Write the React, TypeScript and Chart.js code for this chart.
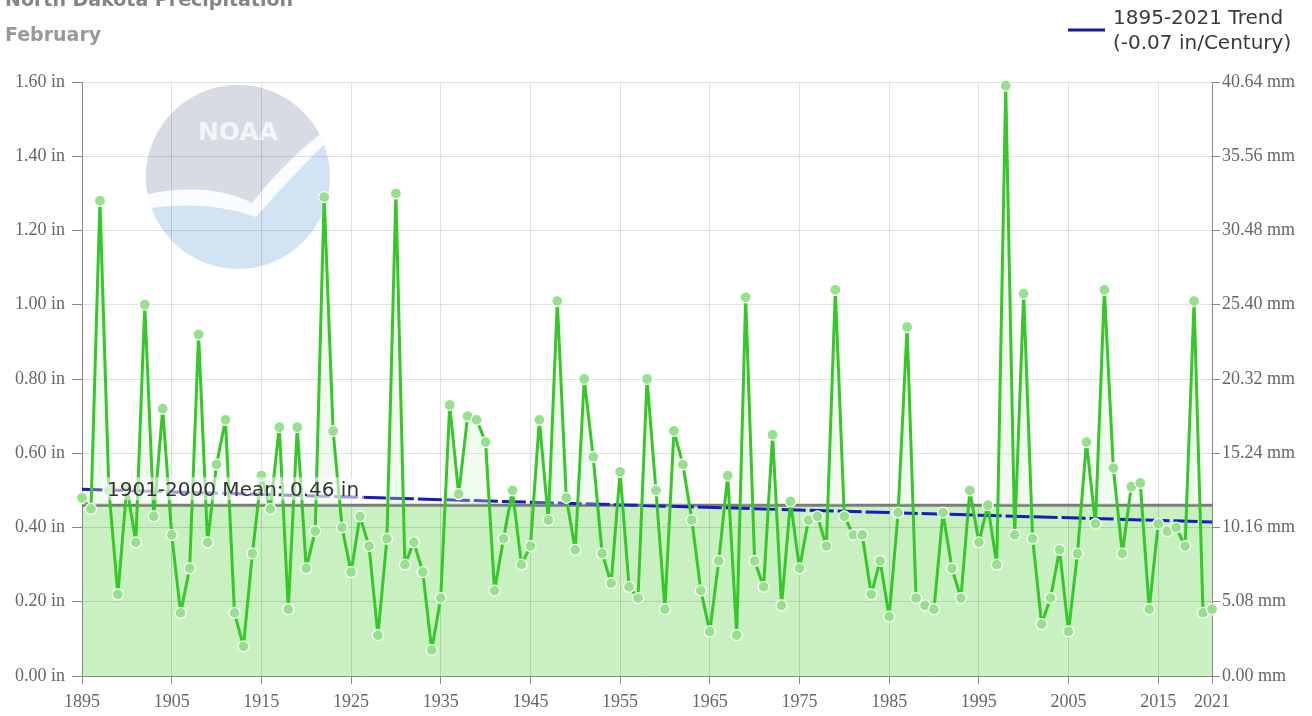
import React, { useEffect, useRef } from 'react';
import { Chart, registerables } from 'chart.js';

Chart.register(...registerables);

const years = [
  1895, 1896, 1897, 1898, 1899, 1900, 1901, 1902, 1903, 1904,
  1905, 1906, 1907, 1908, 1909, 1910, 1911, 1912, 1913, 1914,
  1915, 1916, 1917, 1918, 1919, 1920, 1921, 1922, 1923, 1924,
  1925, 1926, 1927, 1928, 1929, 1930, 1931, 1932, 1933, 1934,
  1935, 1936, 1937, 1938, 1939, 1940, 1941, 1942, 1943, 1944,
  1945, 1946, 1947, 1948, 1949, 1950, 1951, 1952, 1953, 1954,
  1955, 1956, 1957, 1958, 1959, 1960, 1961, 1962, 1963, 1964,
  1965, 1966, 1967, 1968, 1969, 1970, 1971, 1972, 1973, 1974,
  1975, 1976, 1977, 1978, 1979, 1980, 1981, 1982, 1983, 1984,
  1985, 1986, 1987, 1988, 1989, 1990, 1991, 1992, 1993, 1994,
  1995, 1996, 1997, 1998, 1999, 2000, 2001, 2002, 2003, 2004,
  2005, 2006, 2007, 2008, 2009, 2010, 2011, 2012, 2013, 2014,
  2015, 2016, 2017, 2018, 2019, 2020, 2021,
];

const precipIn = [
  0.48, 0.45, 1.28, 0.50, 0.22, 0.51, 0.36, 1.00, 0.43, 0.72,
  0.38, 0.17, 0.29, 0.92, 0.36, 0.57, 0.69, 0.17, 0.08, 0.33,
  0.54, 0.45, 0.67, 0.18, 0.67, 0.29, 0.39, 1.29, 0.66, 0.40,
  0.28, 0.43, 0.35, 0.11, 0.37, 1.30, 0.30, 0.36, 0.28, 0.07,
  0.21, 0.73, 0.49, 0.70, 0.69, 0.63, 0.23, 0.37, 0.50, 0.30,
  0.35, 0.69, 0.42, 1.01, 0.48, 0.34, 0.80, 0.59, 0.33, 0.25,
  0.55, 0.24, 0.21, 0.80, 0.50, 0.18, 0.66, 0.57, 0.42, 0.23,
  0.12, 0.31, 0.54, 0.11, 1.02, 0.31, 0.24, 0.65, 0.19, 0.47,
  0.29, 0.42, 0.43, 0.35, 1.04, 0.43, 0.38, 0.38, 0.22, 0.31,
  0.16, 0.44, 0.94, 0.21, 0.19, 0.18, 0.44, 0.29, 0.21, 0.50,
  0.36, 0.46, 0.30, 1.59, 0.38, 1.03, 0.37, 0.14, 0.21, 0.34,
  0.12, 0.33, 0.63, 0.41, 1.04, 0.56, 0.33, 0.51, 0.52, 0.18,
  0.41, 0.39, 0.40, 0.35, 1.01, 0.17, 0.18,
];

const trendYears = [1895, 2021];
const trendValues = [0.503, 0.415];

const meanYears = [1895, 2021];
const meanValue = 0.46;

const xTicks = [1895, 1905, 1915, 1925, 1935, 1945, 1955, 1965, 1975, 1985, 1995, 2005, 2015, 2021];
const yTicks = [0, 0.2, 0.4, 0.6, 0.8, 1.0, 1.2, 1.4, 1.6];

const titleText = 'North Dakota Precipitation';
const subtitleText = 'February';
const legendLine1 = '1895-2021 Trend';
const legendLine2 = '(-0.07 in/Century)';
const meanLabel = '1901-2000 Mean: 0.46 in';

function drawLogo(ctx: CanvasRenderingContext2D) {
  const cx = 238, cy = 177, r = 92;
  ctx.save();
  ctx.beginPath();
  ctx.arc(cx, cy, r, 0, Math.PI * 2);
  ctx.fillStyle = 'rgb(210,227,243)';
  ctx.fill();
  ctx.clip();
  // upper gray cap
  ctx.beginPath();
  ctx.moveTo(cx - r - 2, cy - r - 2);
  ctx.lineTo(cx + r + 2, cy - r - 2);
  ctx.lineTo(cx + r + 2, cy - 52);
  ctx.quadraticCurveTo(cx + 50, cy - 20, cx + 14, cy + 26);
  ctx.quadraticCurveTo(cx - 30, cy + 4, cx - r - 2, cy + 18);
  ctx.closePath();
  ctx.fillStyle = 'rgb(216,218,228)';
  ctx.fill();
  // white bird swoosh
  ctx.beginPath();
  ctx.moveTo(cx - r - 2, cy + 18);
  ctx.quadraticCurveTo(cx - 30, cy + 4, cx + 14, cy + 26);
  ctx.quadraticCurveTo(cx + 50, cy - 20, cx + r + 2, cy - 52);
  ctx.lineTo(cx + r + 2, cy - 40);
  ctx.quadraticCurveTo(cx + 56, cy - 4, cx + 18, cy + 40);
  ctx.quadraticCurveTo(cx - 30, cy + 22, cx - r - 2, cy + 32);
  ctx.closePath();
  ctx.fillStyle = 'rgb(250,252,255)';
  ctx.fill();
  ctx.restore();
  ctx.save();
  ctx.font = 'bold 25px "DejaVu Sans"';
  ctx.fillStyle = 'rgb(244,245,249)';
  ctx.textAlign = 'center';
  ctx.textBaseline = 'alphabetic';
  ctx.fillText('NOAA', cx, cy - 37);
  ctx.restore();
}

const decorPlugin = {
  id: 'decor',
  beforeDraw(chart: any) {
    const { ctx, chartArea: a, scales } = chart;
    ctx.save();
    ctx.fillStyle = '#ffffff';
    ctx.fillRect(0, 0, chart.width, chart.height);
    drawLogo(ctx);
    const yM = scales.y.getPixelForValue(meanValue);
    const y0 = scales.y.getPixelForValue(0);
    ctx.fillStyle = 'rgb(201,240,193)';
    ctx.fillRect(a.left, yM, a.right - a.left, y0 - yM);
    ctx.restore();
  },
  afterDraw(chart: any) {
    const { ctx, chartArea: a, scales } = chart;
    ctx.save();
    // titles
    ctx.textAlign = 'left';
    ctx.textBaseline = 'alphabetic';
    ctx.font = 'bold 19px "DejaVu Sans"';
    ctx.fillStyle = '#858585';
    ctx.fillText(titleText, 5, 6);
    ctx.fillStyle = '#999999';
    ctx.fillText(subtitleText, 5, 41);
    // legend
    ctx.strokeStyle = '#1616a8';
    ctx.lineWidth = 3;
    ctx.beginPath();
    ctx.moveTo(1068, 30);
    ctx.lineTo(1105, 30);
    ctx.stroke();
    ctx.font = '20px "DejaVu Sans"';
    ctx.fillStyle = '#3a3a3a';
    ctx.fillText(legendLine1, 1113, 24);
    ctx.fillText(legendLine2, 1113, 49);
    // mean label
    const yM = scales.y.getPixelForValue(meanValue);
    const tx = a.left + 25;
    const tw = ctx.measureText(meanLabel).width;
    ctx.fillStyle = 'rgba(255,255,255,0.55)';
    ctx.fillRect(tx - 5, yM - 28, tw + 10, 23);
    ctx.fillStyle = '#333333';
    ctx.fillText(meanLabel, tx, yM - 9);
    ctx.restore();
  },
};

const tickFont = { family: '"Liberation Serif", "Times New Roman", serif', size: 18 };
const gridColor = 'rgba(0,0,0,0.12)';
const axisColor = '#8a8a8a';

export default function App() {
  const canvasRef = useRef<HTMLCanvasElement | null>(null);

  useEffect(() => {
    document.body.style.margin = '0';
    const canvas = canvasRef.current;
    if (!canvas) return;
    const chart = new Chart(canvas, {
      type: 'line',
      data: {
        datasets: [
          {
            label: 'Precipitation',
            data: years.map((yr, i) => ({ x: yr, y: precipIn[i] })),
            borderColor: '#36c828',
            borderWidth: 3,
            borderJoinStyle: 'round',
            borderCapStyle: 'round',
            pointRadius: 5.5,
            pointBackgroundColor: '#96e08e',
            pointBorderColor: '#ffffff',
            pointBorderWidth: 1.2,
            tension: 0,
            fill: { target: { value: meanValue }, above: 'rgba(205,240,198,0.3)', below: 'rgba(0,0,0,0)' },
            order: 1,
            clip: 10,
          } as any,
          {
            label: 'Trend',
            data: trendYears.map((yr, i) => ({ x: yr, y: trendValues[i] })),
            borderColor: '#1a1ac4',
            borderWidth: 3,
            borderDash: [24, 4],
            pointRadius: 0,
            fill: false,
            order: 2,
          },
          {
            label: 'Mean',
            data: meanYears.map((yr) => ({ x: yr, y: meanValue })),
            borderColor: '#7a7a7a',
            borderWidth: 3,
            pointRadius: 0,
            fill: false,
            order: 3,
          },
        ],
      },
      options: {
        animation: false,
        responsive: false,
        devicePixelRatio: 1,
        events: [],
        layout: { padding: { top: 82, left: 0, right: 0, bottom: 0 } },
        plugins: {
          legend: { display: false },
          tooltip: { enabled: false },
          title: { display: false },
        },
        scales: {
          x: {
            type: 'linear',
            min: 1895,
            max: 2021,
            afterBuildTicks: (s: any) => {
              s.ticks = xTicks.map((v) => ({ value: v }));
            },
            afterFit: (s: any) => {
              s.height = 40;
            },
            grid: { color: gridColor, tickColor: axisColor, tickLength: 8 },
            border: { color: axisColor, width: 1 },
            ticks: {
              autoSkip: false,
              maxRotation: 0,
              minRotation: 0,
              padding: 7,
              font: tickFont,
              color: '#666666',
              callback: (v: any) => String(v),
            },
          },
          y: {
            type: 'linear',
            position: 'left',
            min: 0,
            max: 1.6,
            afterBuildTicks: (s: any) => {
              s.ticks = yTicks.map((v) => ({ value: v }));
            },
            afterFit: (s: any) => {
              s.width = 82;
            },
            grid: { color: gridColor, tickColor: axisColor, tickLength: 10 },
            border: { color: axisColor, width: 1 },
            ticks: {
              padding: 7,
              font: tickFont,
              color: '#666666',
              callback: (v: any) => Number(v).toFixed(2) + ' in',
            },
          },
          y2: {
            type: 'linear',
            position: 'right',
            min: 0,
            max: 1.6,
            afterBuildTicks: (s: any) => {
              s.ticks = yTicks.map((v) => ({ value: v }));
            },
            afterFit: (s: any) => {
              s.width = 100;
            },
            grid: { drawOnChartArea: false, tickColor: axisColor, tickLength: 8 },
            border: { color: axisColor, width: 1 },
            ticks: {
              padding: 2,
              font: tickFont,
              color: '#666666',
              callback: (v: any) => (Number(v) * 25.4).toFixed(2) + ' mm',
            },
          },
        },
      } as any,
      plugins: [decorPlugin],
    });
    return () => {
      chart.destroy();
    };
  }, []);

  return (
    <div style={{ width: 1312, height: 716, position: 'relative' }}>
      <canvas ref={canvasRef} width={1312} height={716} style={{ display: 'block' }} />
    </div>
  );
}
